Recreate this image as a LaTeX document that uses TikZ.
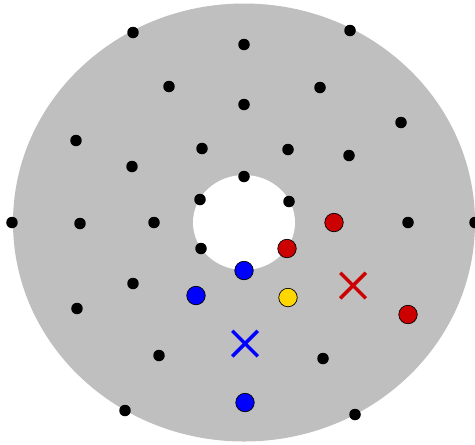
\documentclass[tikz,border=0pt]{standalone}
\usetikzlibrary{shapes.misc}

\definecolor{diskgray}{RGB}{191,191,191}
\definecolor{ptred}{RGB}{204,0,0}
\definecolor{ptblue}{RGB}{0,0,255}
\definecolor{ptgold}{RGB}{255,215,0}

\tikzset{
  dot/.style={circle, fill=black, inner sep=0pt, minimum size=0.23cm},
  bigdot/.style={circle, draw=black, line width=0.4pt, fill=#1, inner sep=0pt, minimum size=0.37cm},
  xmark/.style={cross out, draw=#1, line width=2pt, inner sep=0pt, minimum size=0.44cm}
}

\begin{document}
\begin{tikzpicture}[x=0.02cm, y=0.02cm]
\useasboundingbox (-244,-221.5) rectangle (231,222.5);

\coordinate (O) at (0,0);
\fill[diskgray] (O) ellipse [x radius=231, y radius=219];
\fill[white] (O) ellipse [x radius=51, y radius=47.5];

% outer ring
\node[dot] (p1) at (-111,190) {};
\node[dot] (p2) at (106,192) {};
\node[dot] (p3) at (231,0) {};
\node[dot] (p4) at (-232,0) {};
\node[dot] (p5) at (-119,-188) {};
\node[dot] (p6) at (111,-192) {};

% middle rings
\node[dot] (q1) at (0,178) {};
\node[dot] (q2) at (-75,136) {};
\node[dot] (q3) at (76,135) {};
\node[dot] (q4) at (0,118) {};
\node[dot] (q5) at (157,100) {};
\node[dot] (q6) at (-168,82) {};
\node[dot] (q7) at (-42,74) {};
\node[dot] (q8) at (44,73) {};
\node[dot] (q9) at (105,67) {};
\node[dot] (q10) at (-112,56) {};
\node[dot] (q11) at (-164,-1) {};
\node[dot] (q12) at (-90,0) {};
\node[dot] (q13) at (164,0) {};
\node[dot] (q14) at (-111,-61) {};
\node[dot] (q15) at (-167,-86) {};
\node[dot] (q16) at (-85,-133) {};
\node[dot] (q17) at (79,-136) {};

% around the hole
\node[dot] (r1) at (0,46) {};
\node[dot] (r2) at (-44,23) {};
\node[dot] (r3) at (45,21) {};
\node[dot] (r4) at (-43,-26) {};

% marked points
\node[bigdot=ptred] (red1) at (90,0) {};
\node[bigdot=ptred] (red2) at (43,-26) {};
\node[bigdot=ptred] (red3) at (164,-92) {};
\node[bigdot=ptblue] (blue1) at (0,-48) {};
\node[bigdot=ptblue] (blue2) at (-48,-73) {};
\node[bigdot=ptblue] (blue3) at (1,-180) {};
\node[bigdot=ptgold] (gold) at (44,-75) {};

\node[xmark=ptred] (redx) at (109,-63) {};
\node[xmark=ptblue] (bluex) at (1,-121) {};
\end{tikzpicture}
\end{document}
